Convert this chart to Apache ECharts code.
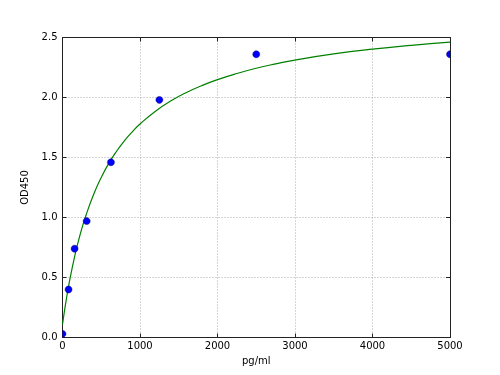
<!DOCTYPE html>
<html><head><meta charset="utf-8">
<script src="https://cdn.jsdelivr.net/npm/echarts@6/dist/echarts.min.js"></script>
<style>html,body{margin:0;padding:0;background:#fff}#c{width:500px;height:375px}</style>
</head><body><div id="c"></div>
<script>
const concentrations = [0, 78, 156, 312, 625, 1250, 2500, 5000];
const odValues = [0.03, 0.40, 0.74, 0.97, 1.46, 1.98, 2.36, 2.36];
const curveX = [0, 25, 50, 75, 100, 150, 200, 250, 300, 400, 500, 600, 700, 800, 900, 1000, 1200, 1400, 1600, 1800, 2000, 2250, 2500, 2750, 3000, 3500, 4000, 4500, 5000];
const curveY = [0.11, 0.22, 0.321, 0.415, 0.501, 0.656, 0.791, 0.909, 1.013, 1.19, 1.334, 1.454, 1.554, 1.64, 1.714, 1.779, 1.886, 1.972, 2.042, 2.1, 2.149, 2.2, 2.244, 2.28, 2.312, 2.363, 2.403, 2.435, 2.462];
const xTicks = [0, 1000, 2000, 3000, 4000, 5000];
const yTicks = [0.0, 0.5, 1.0, 1.5, 2.0, 2.5];

const font = 'DejaVu Sans';
const chart = echarts.init(document.getElementById('c'), null, {renderer: 'canvas'});
const axisLine = {show: true, onZero: false, lineStyle: {color: '#222', width: 1}};
const tick = {show: true, inside: true, length: 4, lineStyle: {color: '#222'}};
const grid = {show: true, lineStyle: {color: '#aaa', type: [1, 2], width: 1}};
chart.setOption({
  animation: false,
  grid: {left: 62.5, right: 50, top: 37.5, bottom: 37.5},
  xAxis: [
    {type: 'value', min: xTicks[0], max: xTicks[xTicks.length-1], interval: 1000, position: 'bottom',
     name: 'pg/ml', nameLocation: 'middle', nameGap: 19,
     nameTextStyle: {fontFamily: font, fontSize: 10, color: '#000'},
     axisLine: axisLine, axisTick: tick, splitLine: grid,
     axisLabel: {fontFamily: font, fontSize: 10, color: '#000', margin: 4, formatter: v => String(v)}},
    {type: 'value', min: xTicks[0], max: xTicks[xTicks.length-1], interval: 1000, position: 'top',
     axisLine: axisLine, axisTick: tick, splitLine: {show: false}, axisLabel: {show: false}}
  ],
  yAxis: [
    {type: 'value', min: yTicks[0], max: yTicks[yTicks.length-1], interval: 0.5, position: 'left',
     name: 'OD450', nameLocation: 'middle', nameGap: 25, nameRotate: 90,
     nameTextStyle: {fontFamily: font, fontSize: 10, color: '#000'},
     axisLine: axisLine, axisTick: tick, splitLine: grid,
     axisLabel: {fontFamily: font, fontSize: 10, color: '#000', margin: 5, formatter: v => v.toFixed(1)}},
    {type: 'value', min: yTicks[0], max: yTicks[yTicks.length-1], interval: 0.5, position: 'right',
     axisLine: axisLine, axisTick: tick, splitLine: {show: false}, axisLabel: {show: false}}
  ],
  series: [
    {type: 'line', xAxisIndex: 0, yAxisIndex: 0, data: curveX.map((x, i) => [x, curveY[i]]),
     showSymbol: false, smooth: true, lineStyle: {color: '#008000', width: 1.2}, clip: true, z: 2},
    {type: 'custom', xAxisIndex: 0, yAxisIndex: 0, data: concentrations.map((x, i) => [x, odValues[i]]),
     z: 3,
     renderItem: function (params, api) {
       const p = api.coord([api.value(0), api.value(1)]);
       const cs = params.coordSys;
       const r = 3.5, pts = [];
       for (let k = 0; k < 32; k++) {
         const a = k / 32 * Math.PI * 2;
         let x = p[0] + r * Math.cos(a), y = p[1] + r * Math.sin(a);
         x = Math.min(Math.max(x, cs.x), cs.x + cs.width);
         y = Math.min(Math.max(y, cs.y), cs.y + cs.height);
         pts.push([x, y]);
       }
       return {
         type: 'polygon',
         shape: {points: pts},
         style: {fill: '#0000ff', stroke: '#000044', lineWidth: 0.4}
       };
     }}
  ]
});
</script></body></html>
